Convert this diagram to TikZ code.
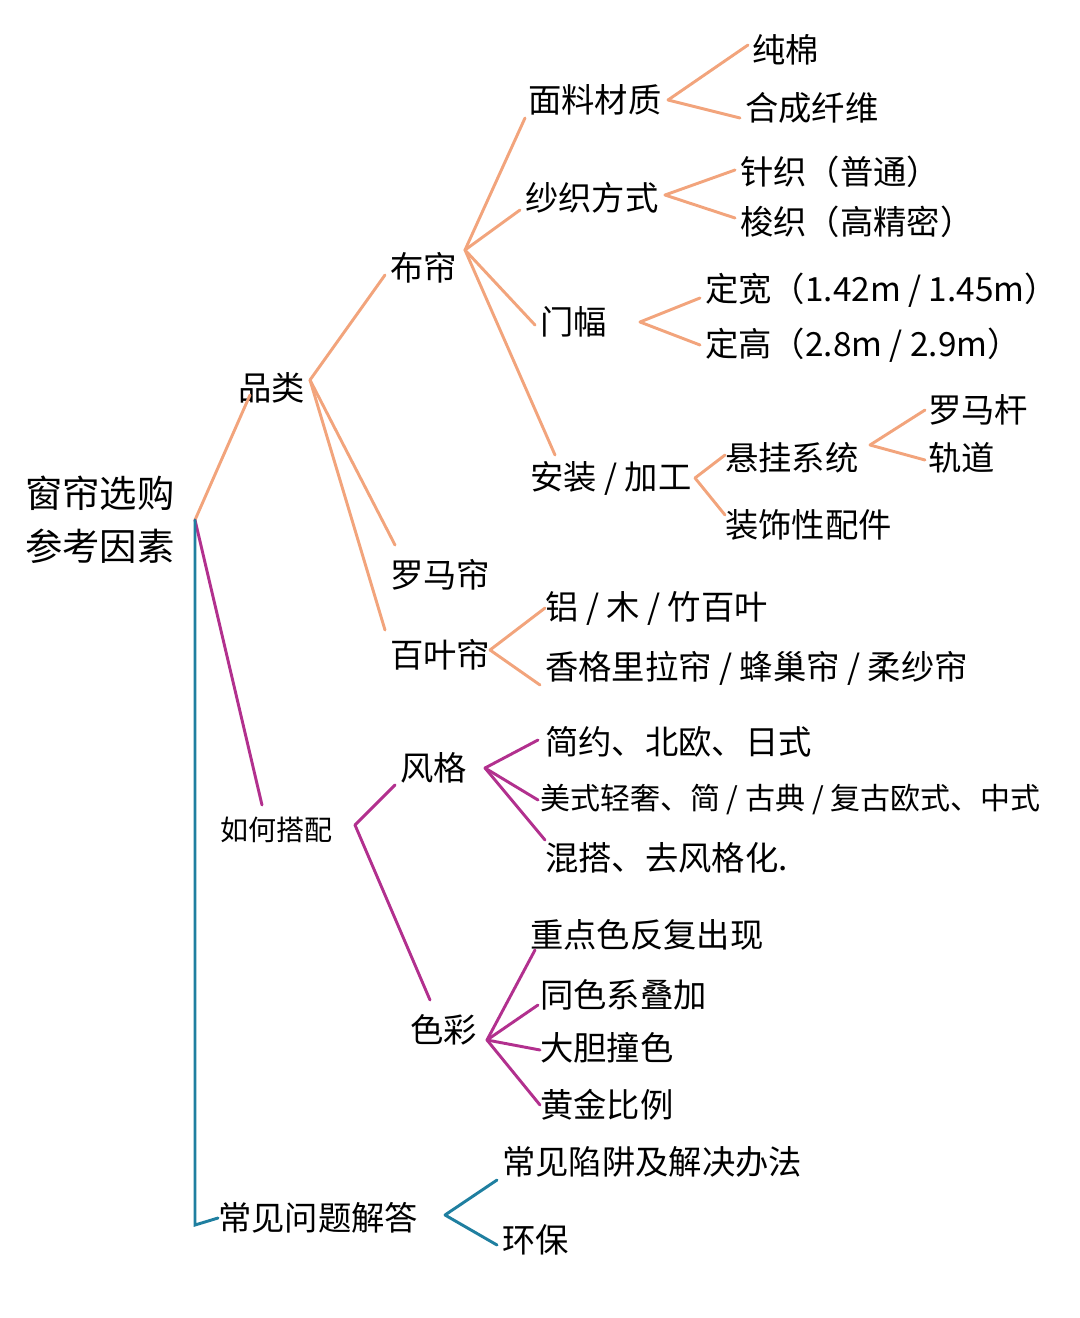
\documentclass[tikz,border=0pt]{standalone}
\usepackage{fontspec}
\setmainfont{Noto Sans CJK SC}
\definecolor{oc}{HTML}{F2A47C}
\definecolor{mc}{HTML}{B2308E}
\definecolor{bc}{HTML}{1F7FA0}
\begin{document}
\begin{tikzpicture}[x=0.75pt,y=-0.75pt,
  t/.style={anchor=west,inner sep=0pt,font=\fontsize{25}{28}\selectfont},
  ts/.style={anchor=west,inner sep=0pt,font=\fontsize{21}{24}\selectfont},
  o/.style={draw=oc,line width=2.2pt,line cap=round},
  m/.style={draw=mc,line width=2.2pt,line cap=round},
  b/.style={draw=bc,line width=2.2pt,line cap=round}]
\useasboundingbox (0,0) rectangle (1080,1318);
\node[t,align=center,anchor=center,font=\fontsize{28}{40}\selectfont] (root) at (100,520) {窗帘选购\\参考因素};
\node[t] (pl) at (238,388) {品类};
\node[t] (bl) at (390,268) {布帘};
\node[t] (mlcz) at (528,100) {面料材质};
\node[t] (cm) at (752,50) {纯棉};
\node[t] (hc) at (745,108) {合成纤维};
\node[t] (szfs) at (525,198) {纱织方式};
\node[t] (zz) at (740,172) {针织（普通）};
\node[t] (sz) at (740,222) {梭织（高精密）};
\node[t] (mf) at (540,322) {门幅};
\node[t] (dk) at (705,290) {定宽（1.42m / 1.45m）};
\node[t] (dg) at (705,345) {定高（2.8m / 2.9m）};
\node[t] (az) at (530,478) {安装 / 加工};
\node[t] (xg) at (725,458) {悬挂系统};
\node[t] (lmg) at (928,410) {罗马杆};
\node[t] (gd) at (928,458) {轨道};
\node[t] (zs) at (725,525) {装饰性配件};
\node[t] (lml) at (390,575) {罗马帘};
\node[t] (byl) at (390,655) {百叶帘};
\node[t] (lmz) at (545,608) {铝 / 木 / 竹百叶};
\node[t] (xgl) at (545,668) {香格里拉帘 / 蜂巢帘 / 柔纱帘};
\node[ts] (rh) at (220,830) {如何搭配};
\node[t] (fg) at (400,768) {风格};
\node[t] (jy) at (545,742) {简约、北欧、日式};
\node[t,font=\fontsize{22.5}{26}\selectfont] (ms) at (540,800) {美式轻奢、简 / 古典 / 复古欧式、中式};
\node[t] (hd) at (545,858) {混搭、去风格化.};
\node[t] (sc) at (410,1030) {色彩};
\node[t] (zd) at (530,935) {重点色反复出现};
\node[t] (ts1) at (540,995) {同色系叠加};
\node[t] (dd) at (540,1048) {大胆撞色};
\node[t] (hj) at (540,1105) {黄金比例};
\node[t] (cj) at (218,1218) {常见问题解答};
\node[t] (xj) at (502,1162) {常见陷阱及解决办法};
\node[t] (hb) at (502,1240) {环保};
% root
\coordinate (r0) at (195,520);
\draw[o] (r0) -- (250,395);
\draw[m] (r0) -- (262,805);
\draw[b] (r0) -- (195,1225) -- (cj.west);
% 品类
\coordinate (p0) at (310,380);
\draw[o] (p0) -- (385,275); \draw[o] (p0) -- (395,545); \draw[o] (p0) -- (385,630);
\coordinate (b0) at (465,250);
\draw[o] (b0) -- (525,118); \draw[o] (b0) -- (520,210); \draw[o] (b0) -- (535,325); \draw[o] (b0) -- (555,455);
\coordinate (m0) at (668,100);
\draw[o] (m0) -- (748,45); \draw[o] (m0) -- (740,118);
\coordinate (s0) at (665,195);
\draw[o] (s0) -- (735,170); \draw[o] (s0) -- (735,218);
\coordinate (f0) at (640,322);
\draw[o] (f0) -- (700,298); \draw[o] (f0) -- (700,345);
\coordinate (a0) at (695,478);
\draw[o] (a0) -- (725,455); \draw[o] (a0) -- (725,515);
\coordinate (x0) at (870,445);
\draw[o] (x0) -- (925,410); \draw[o] (x0) -- (925,460);
\coordinate (y0) at (490,650);
\draw[o] (y0) -- (545,608); \draw[o] (y0) -- (540,685);
% 如何搭配
\coordinate (h0) at (355,825);
\draw[m] (h0) -- (395,785); \draw[m] (h0) -- (430,1000);
\coordinate (g0) at (485,768);
\draw[m] (g0) -- (538,740); \draw[m] (g0) -- (538,800); \draw[m] (g0) -- (545,840);
\coordinate (c0) at (487,1040);
\draw[m] (c0) -- (535,950); \draw[m] (c0) -- (538,1005); \draw[m] (c0) -- (540,1050); \draw[m] (c0) -- (540,1105);
% 常见问题
\coordinate (q0) at (445,1215);
\draw[b] (q0) -- (497,1180); \draw[b] (q0) -- (497,1245);
\end{tikzpicture}
\end{document}
